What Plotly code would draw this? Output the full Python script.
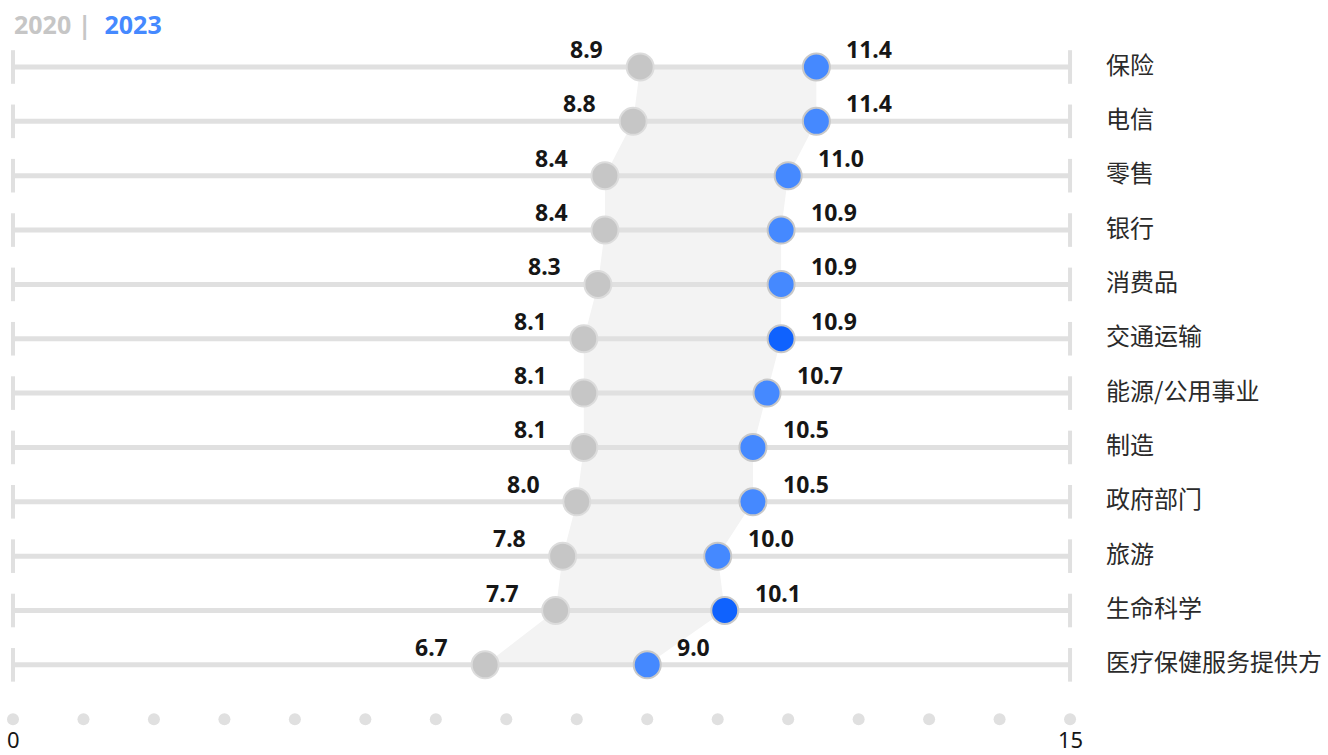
import plotly.graph_objects as go

categories = ["保险", "电信", "零售", "银行", "消费品", "交通运输", "能源/公用事业",
              "制造", "政府部门", "旅游", "生命科学", "医疗保健服务提供方"]
values_2020 = [8.9, 8.8, 8.4, 8.4, 8.3, 8.1, 8.1, 8.1, 8.0, 7.8, 7.7, 6.7]
values_2023 = [11.4, 11.4, 11.0, 10.9, 10.9, 10.9, 10.7, 10.5, 10.5, 10.0, 10.1, 9.0]
highlighted = ["交通运输", "生命科学"]
axis_ticks = list(range(0, 16))
axis_labels = {0: "0", 15: "15"}
series_names = ["2020", "2023"]

W, H = 1328, 755
px_left, px_per_unit = 13, 70.47
row0_px, row_step = 67, 54.35

x_range = [-px_left / px_per_unit, (W - px_left) / px_per_unit]
y_range = [(H - row0_px) / row_step, -row0_px / row_step]

GRAY = "#c6c6c6"
LINE = "#e0e0e0"
BLUE = "#4589ff"
DBLUE = "#0f62fe"
TEXT = "#161616"

n = len(categories)
rows = list(range(n))
xmin, xmax = axis_ticks[0], axis_ticks[-1]

fig = go.Figure()

# shaded band between the two series
fig.add_trace(go.Scatter(
    x=values_2020 + values_2023[::-1],
    y=rows + rows[::-1],
    fill="toself", fillcolor="#f3f3f3", mode="none", hoverinfo="skip"))

# row lines
lx, ly = [], []
for r in rows:
    lx += [xmin, xmax, None]
    ly += [r, r, None]
fig.add_trace(go.Scatter(x=lx, y=ly, mode="lines",
                         line=dict(color=LINE, width=5), hoverinfo="skip"))
# end ticks
fig.add_trace(go.Scatter(
    x=[xmin] * n + [xmax] * n, y=rows + rows, mode="markers",
    marker=dict(symbol="line-ns", size=24, line=dict(color=LINE, width=4)),
    hoverinfo="skip"))

# bottom axis dots
fig.add_trace(go.Scatter(
    x=axis_ticks, y=[n] * len(axis_ticks), mode="markers",
    marker=dict(size=12, color=LINE), hoverinfo="skip"))

# 2020 dots
fig.add_trace(go.Scatter(
    x=values_2020, y=rows, mode="markers", name=series_names[0],
    marker=dict(size=27, color=GRAY, line=dict(color="#dcdcdc", width=2))))
# 2023 dots
fig.add_trace(go.Scatter(
    x=values_2023, y=rows, mode="markers", name=series_names[1],
    marker=dict(size=27,
                color=[DBLUE if c in highlighted else BLUE for c in categories],
                line=dict(color="#c8c8c8", width=2))))

annotations = []
num_font = dict(family="Noto Sans", size=23, color=TEXT)
for r, (a, b, c) in enumerate(zip(values_2020, values_2023, categories)):
    annotations.append(dict(x=a, y=r, xref="x", yref="y", text=f"<b>{a:.1f}</b>",
                            showarrow=False, xanchor="right", yanchor="middle",
                            xshift=-35, yshift=18, font=num_font))
    annotations.append(dict(x=b, y=r, xref="x", yref="y", text=f"<b>{b:.1f}</b>",
                            showarrow=False, xanchor="left", yanchor="middle",
                            xshift=28, yshift=18, font=num_font))
    annotations.append(dict(x=(1104 - px_left) / px_per_unit, y=r, xref="x", yref="y",
                            text=c, showarrow=False, xanchor="left", yanchor="middle",
                            yshift=4,
                            font=dict(family="Noto Sans CJK SC", size=24, color="#2a2a2a")))

for v, t in axis_labels.items():
    annotations.append(dict(x=v, y=n, xref="x", yref="y", text=t, showarrow=False,
                            xanchor="center", yanchor="middle", yshift=-20,
                            font=dict(family="Noto Sans", size=22, color=TEXT)))

annotations.append(dict(
    x=12 / W, y=1 - 24 / H, xref="paper", yref="paper", showarrow=False,
    xanchor="left", yanchor="middle",
    text=f"<b><span style='color:{GRAY}'>{series_names[0]} |</span>  "
         f"<span style='color:{BLUE}'>{series_names[1]}</span></b>",
    font=dict(family="Noto Sans", size=25)))

fig.update_layout(
    width=W, height=H, margin=dict(l=0, r=0, t=0, b=0),
    plot_bgcolor="white", paper_bgcolor="white", showlegend=False,
    xaxis=dict(range=x_range, visible=False, fixedrange=True),
    yaxis=dict(range=y_range, visible=False, fixedrange=True),
    annotations=annotations)

fig.write_html("out.html", config={"displayModeBar": False},
               post_script="document.body.style.margin='0';"
                           "document.body.style.overflow='hidden';")
